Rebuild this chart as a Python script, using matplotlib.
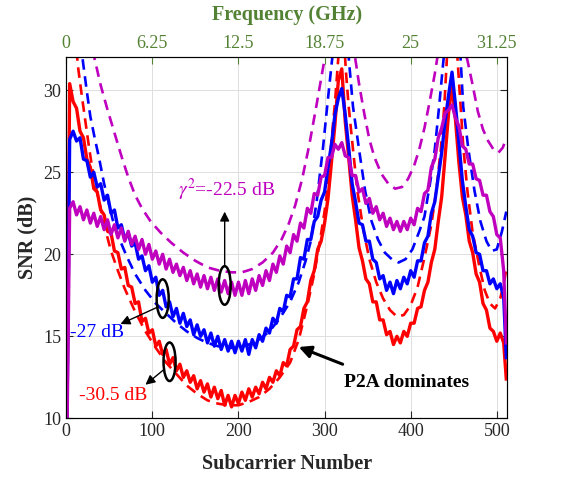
import matplotlib
matplotlib.use('Agg')
import matplotlib.pyplot as plt
import numpy as np
from matplotlib.patches import Ellipse

plt.rcParams['font.family'] = ['Liberation Serif', 'DejaVu Serif']
plt.rcParams['mathtext.fontset'] = 'stix'

# subcarrier index of the measured (solid) curves, every 4th plus the last one
sub_meas = np.append(np.arange(0, 512, 4), 511)

snr_red = [5.0, 30.4, 29.3, 28.9, 27.5, 27.1, 25.8, 25.3, 24.0, 23.8, 22.7, 22.4, 21.4, 21.3, 20.2, 20.1,
           19.1, 19.2, 18.1, 18.0, 17.0, 17.1, 15.9, 16.1, 15.2, 15.4, 14.4, 14.7, 13.9, 14.2, 13.3, 13.7,
           12.9, 13.3, 12.5, 12.9, 12.2, 12.6, 11.8, 12.3, 11.6, 12.1, 11.3, 11.9, 11.2, 11.7, 10.8, 11.4,
           10.7, 11.4, 10.9, 11.6, 11.1, 11.8, 11.3, 11.9, 11.5, 12.2, 11.8, 12.5, 12.2, 12.9, 12.6, 13.4,
           13.2, 14.2, 14.4, 15.4, 15.6, 16.7, 17.1, 18.4, 19.0, 20.3, 20.8, 21.9, 23.4, 25.6, 27.9, 30.6,
           31.3, 28.1, 25.9, 23.6, 22.1, 20.4, 19.6, 18.5, 18.2, 17.1, 17.1, 16.0, 16.0, 15.1, 15.3, 14.5,
           15.0, 14.6, 15.3, 15.0, 15.8, 15.8, 16.7, 16.8, 17.8, 18.3, 19.5, 20.3, 22.0, 23.5, 26.0, 28.6,
           30.3, 28.2, 25.6, 23.5, 22.4, 20.8, 20.1, 18.8, 18.3, 17.0, 16.6, 15.5, 15.3, 14.7, 15.2, 14.6,
           12.4]
snr_blue = [5.0, 27.0, 27.5, 26.9, 27.1, 25.8, 25.7, 24.7, 25.0, 24.1, 24.3, 23.3, 23.6, 22.5, 22.7, 21.6,
            21.8, 20.9, 21.3, 20.5, 20.7, 19.7, 19.9, 19.0, 19.3, 18.3, 18.6, 17.5, 17.8, 16.8, 17.1, 16.2,
            16.7, 15.8, 16.4, 15.6, 16.0, 15.1, 15.7, 15.0, 15.4, 14.6, 15.2, 14.4, 15.0, 14.2, 14.8, 14.1,
            14.7, 14.0, 14.7, 14.1, 14.8, 13.9, 14.8, 14.3, 15.1, 14.7, 15.5, 15.2, 16.1, 15.8, 16.7, 16.5,
            17.5, 17.4, 18.5, 18.5, 19.8, 19.7, 20.9, 20.9, 22.0, 22.3, 23.3, 23.8, 25.3, 26.7, 28.5, 29.5,
            30.1, 28.5, 26.5, 24.3, 23.2, 21.9, 21.8, 20.8, 20.8, 19.7, 19.5, 18.5, 18.7, 17.8, 18.3, 17.6,
            18.4, 17.9, 18.6, 18.2, 19.0, 18.6, 19.6, 19.6, 20.7, 21.1, 22.5, 23.2, 24.7, 26.2, 28.1, 29.7,
            31.1, 29.1, 26.8, 24.5, 22.9, 21.5, 21.1, 20.1, 20.0, 19.0, 19.0, 18.2, 18.5, 17.9, 18.2, 17.4,
            13.7]
snr_mag = [5.0, 22.8, 23.2, 22.4, 22.9, 22.1, 22.7, 21.9, 22.5, 21.7, 22.3, 21.5, 22.1, 21.2, 21.8, 21.0,
           21.6, 20.8, 21.4, 20.6, 21.1, 20.3, 20.9, 20.0, 20.6, 19.7, 20.2, 19.4, 20.0, 19.1, 19.7, 18.9,
           19.4, 18.7, 19.2, 18.4, 19.0, 18.2, 18.8, 18.0, 18.7, 17.9, 18.6, 17.8, 18.5, 17.7, 18.4, 17.6,
           18.3, 17.5, 18.3, 17.5, 18.4, 17.6, 18.5, 17.8, 18.7, 18.1, 19.0, 18.4, 19.4, 18.9, 19.9, 19.4,
           20.5, 20.1, 21.2, 20.8, 21.9, 21.6, 22.8, 22.5, 23.7, 23.6, 24.7, 24.8, 25.9, 25.9, 26.7, 26.4,
           26.8, 26.0, 25.9, 24.8, 24.8, 23.8, 24.0, 23.1, 23.4, 22.5, 22.9, 22.1, 22.5, 21.7, 22.2, 21.5,
           22.0, 21.4, 22.0, 21.5, 22.2, 21.8, 22.8, 22.6, 23.7, 23.9, 25.3, 25.8, 27.1, 27.7, 28.6, 28.8,
           29.1, 28.3, 27.8, 26.6, 26.4, 25.5, 25.5, 24.6, 24.5, 23.6, 23.6, 22.6, 22.3, 21.2, 21.0, 19.0,
           14.6]

# analytical SNR (dashed)
sub_red_th = [6, 10, 14, 18, 22, 26, 30, 34, 40, 46, 52, 60, 68, 80, 92, 104, 116, 128, 140, 152, 164,
              176, 188, 200, 212, 224, 236, 248, 260, 270, 280, 288, 294, 300, 304, 308, 312, 316, 319,
              322, 325, 328, 333, 338, 345, 352, 360, 368, 376, 384, 392, 400, 408, 416, 424, 430, 435,
              439, 442, 448, 454, 458, 461, 466, 472, 480, 486, 492, 498, 504, 508, 511]
snr_red_th = [36.0, 33.5, 31.3, 29.7, 28.2, 26.7, 25.3, 24.2, 22.8, 21.4, 20.2, 19.0, 17.9, 16.5, 15.3,
              14.3, 13.4, 12.7, 12.0, 11.5, 11.1, 10.9, 10.8, 10.8, 11.0, 11.3, 11.8, 12.5, 13.4, 14.8,
              16.9, 18.8, 20.6, 22.6, 24.3, 26.9, 29.2, 32.0, 35.5, 33.5, 31.0, 29.0, 26.4, 23.9, 21.5,
              19.7, 18.3, 17.3, 16.6, 16.2, 16.3, 16.9, 18.0, 19.8, 21.8, 24.0, 26.4, 29.0, 31.9, 36.0,
              32.2, 29.0, 26.6, 23.8, 21.3, 19.2, 17.8, 17.0, 16.7, 17.3, 18.2, 19.1]
sub_blue_th = [12, 16, 20, 24, 28, 33, 38, 44, 49, 54, 62, 70, 80, 92, 104, 116, 128, 140, 152, 164, 176,
               188, 200, 212, 224, 236, 248, 260, 270, 278, 284, 291, 298, 303, 309, 314, 319, 324, 328,
               333, 340, 347, 354, 362, 370, 378, 386, 394, 402, 410, 416, 423, 428, 433, 438, 443, 448,
               453, 458, 461, 467, 474, 481, 488, 494, 500, 506, 511]
snr_blue_th = [35.0, 33.2, 31.5, 29.9, 28.4, 27.1, 25.9, 24.3, 23.2, 22.1, 20.9, 19.9, 18.8, 17.8, 17.0,
               16.4, 15.8, 15.3, 14.9, 14.6, 14.4, 14.3, 14.3, 14.5, 14.8, 15.3, 16.1, 17.1, 18.3, 19.6,
               20.8, 23.3, 26.4, 29.0, 32.0, 34.8, 36.5, 34.5, 32.0, 29.0, 26.4, 23.9, 22.1, 20.9, 20.1,
               19.7, 19.5, 19.7, 20.3, 21.4, 22.3, 24.5, 26.4, 29.0, 31.8, 34.5, 36.5, 34.5, 31.9, 29.0,
               26.4, 23.9, 22.0, 20.8, 20.2, 20.3, 21.4, 22.6]
sub_mag_th = [28, 33, 40, 48, 56, 64, 72, 80, 88, 98, 110, 122, 136, 150, 164, 178, 192, 204, 216, 228,
              240, 250, 258, 266, 274, 282, 290, 296, 302, 310, 318, 326, 334, 340, 346, 352, 358, 366,
              374, 382, 390, 397, 404, 410, 416, 422, 428, 434, 440, 447, 454, 460, 466, 472, 478, 484,
              490, 496, 502, 507, 511]
snr_mag_th = [33.5, 31.9, 30.3, 28.8, 27.4, 26.0, 24.7, 23.6, 22.8, 22.0, 21.3, 20.7, 20.1, 19.6, 19.2,
              19.0, 18.9, 18.9, 19.1, 19.5, 20.1, 20.9, 21.8, 23.0, 24.6, 26.6, 28.9, 30.7, 32.5, 34.5,
              35.5, 34.5, 32.5, 30.4, 28.6, 27.0, 25.9, 24.9, 24.3, 24.0, 24.1, 24.6, 25.4, 26.4, 27.7,
              29.3, 31.0, 33.0, 34.5, 35.3, 34.5, 33.0, 31.8, 30.3, 28.7, 27.6, 26.9, 26.4, 26.2, 26.5,
              27.1]

freq_ticks = [0, 6.25, 12.5, 18.75, 25, 31.25]
freq_labels = ['0', '6.25', '12.5', '18.75', '25', '31.25']

red = '#ff0000'
blue = '#0000ff'
mag = '#bf00bf'
green = '#548235'
dash = (0, (4, 2.5))

fig = plt.figure(figsize=(5.66, 4.82), dpi=100)
ax = fig.add_axes([0.117, 0.132, 0.779, 0.749])

ax.plot(sub_meas, snr_red, color=red, lw=2.4)
ax.plot(sub_red_th, snr_red_th, color=red, lw=1.9, linestyle=dash)
ax.plot(sub_meas, snr_blue, color=blue, lw=2.4)
ax.plot(sub_blue_th, snr_blue_th, color=blue, lw=1.9, linestyle=dash)
ax.plot(sub_meas, snr_mag, color=mag, lw=2.4)
ax.plot(sub_mag_th, snr_mag_th, color=mag, lw=1.9, linestyle=dash)

ax.set_xlim(0, 512)
ax.set_ylim(10, 32)
ax.set_xticks([0, 100, 200, 300, 400, 500])
ax.set_yticks([10, 15, 20, 25, 30])
ax.grid(True, color='#dedede', lw=0.7)
ax.set_axisbelow(True)
ax.tick_params(direction='in', labelsize=13, colors='#262626', right=True, length=5)
for sp in ax.spines.values():
    sp.set_linewidth(0.8)
    sp.set_color('#262626')
ax.set_xlabel('Subcarrier Number', fontsize=14.5, fontweight='bold', color='#262626', labelpad=10)
ax.set_ylabel('SNR (dB)', fontsize=14.5, fontweight='bold', color='#262626', labelpad=4)

# frequency axis on top
ax2 = ax.twiny()
ax2.set_xlim(0, 512 * 31.25 / 500)
ax2.set_xticks(freq_ticks)
ax2.set_xticklabels(freq_labels)
ax2.tick_params(direction='in', labelsize=13, colors=green, length=5, pad=4)
ax2.set_xlabel('Frequency (GHz)', fontsize=14.5, fontweight='bold', color=green, labelpad=11)

# ellipses and arrows
for cx, cy in [(184, 18.1), (112, 17.3), (120, 13.45)]:
    ax.add_patch(Ellipse((cx, cy), 14, 2.35, fill=False, ec='k', lw=1.8, zorder=5))

arr = dict(arrowstyle='-|>', color='k', lw=1.0, mutation_scale=14, shrinkA=0, shrinkB=0)
ax.annotate('', xy=(184, 22.6), xytext=(184, 19.28), arrowprops=arr, zorder=6)
ax.annotate('', xy=(63, 15.75), xytext=(107, 16.8), arrowprops=arr, zorder=6)
ax.annotate('', xy=(92, 12.05), xytext=(114, 13.0), arrowprops=arr, zorder=6)
ax.annotate('', xy=(270, 14.35), xytext=(321, 13.3),
            arrowprops=dict(arrowstyle='-|>', color='k', lw=2.2, mutation_scale=18,
                            shrinkA=0, shrinkB=0), zorder=6)

ax.text(186, 23.55, r'$\gamma^2$=-22.5 dB', color=mag, fontsize=14, ha='center', va='baseline')
ax.text(36, 14.95, '-27 dB', color=blue, fontsize=14, ha='center', va='baseline')
ax.text(54, 11.1, '-30.5 dB', color=red, fontsize=14, ha='center', va='baseline')
ax.text(322, 11.9, 'P2A dominates', color='k', fontsize=14, fontweight='bold', ha='left', va='baseline')

fig.savefig('out.png', dpi=100)
plt.close(fig)
